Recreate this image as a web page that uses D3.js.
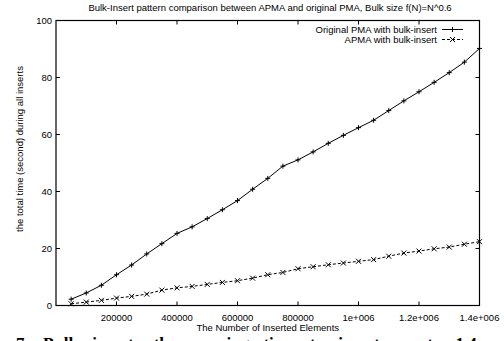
<!DOCTYPE html>
<html><head><meta charset="utf-8">
<script src="https://cdn.jsdelivr.net/npm/d3@7"></script>
<style>body{margin:0;background:#fff}svg{display:block}</style>
</head><body>
<svg id="c" width="504" height="341"></svg>
<script>
const xValues = [50000,100000,150000,200000,250000,300000,350000,400000,450000,500000,550000,600000,650000,700000,750000,800000,850000,900000,950000,1000000,1050000,1100000,1150000,1200000,1250000,1300000,1350000,1400000];
const originalPMA = [2.2,4.4,7.1,10.8,14.2,18.1,21.7,25.3,27.6,30.5,33.6,36.8,40.8,44.6,48.9,51.1,53.9,56.9,59.7,62.4,65.0,68.4,71.8,75.0,78.3,81.7,85.4,90.2];
const apma = [0.6,1.2,1.8,2.6,3.2,4.0,5.4,6.2,6.7,7.4,8.1,8.7,9.6,10.8,11.6,12.9,13.6,14.3,14.9,15.5,16.1,17.3,18.4,19.1,19.9,20.5,21.5,22.4];
const xTicks = [200000,400000,600000,800000,1000000,1200000,1400000];
const xTickLabels = ["200000","400000","600000","800000","1e+006","1.2e+006","1.4e+006"];
const yTicks = [0,20,40,60,80,100];
const seriesNames = ["Original PMA with bulk-insert","APMA with bulk-insert"];
const titleText = "Bulk-Insert pattern comparison between APMA and original PMA, Bulk size f(N)=N^0.6";

const svg = d3.select("#c");
const font = "'Liberation Sans', Arial, sans-serif";
const fs = 9.5;
const L=56, R=479.5, T=20.5, B=305.5;
const x = d3.scaleLinear().domain([0,1400000]).range([L,R]);
const y = d3.scaleLinear().domain([0,100]).range([B,T]);

svg.append("text").attr("x",270).attr("y",11).attr("text-anchor","middle")
  .attr("font-family",font).attr("font-size",fs).text(titleText);

svg.append("rect").attr("x",L).attr("y",T).attr("width",R-L).attr("height",B-T)
  .attr("fill","none").attr("stroke","#000").attr("stroke-width",1.2);

const tl=4;
const gx = svg.append("g");
xTicks.forEach((t,i)=>{
  gx.append("line").attr("x1",x(t)).attr("x2",x(t)).attr("y1",B).attr("y2",B-tl).attr("stroke","#000");
  gx.append("line").attr("x1",x(t)).attr("x2",x(t)).attr("y1",T).attr("y2",T+tl).attr("stroke","#000");
  gx.append("text").attr("x",x(t)).attr("y",B+15.5).attr("text-anchor","middle")
    .attr("font-family",font).attr("font-size",fs).text(xTickLabels[i]);
});
const gy = svg.append("g");
yTicks.forEach(t=>{
  gy.append("line").attr("x1",L).attr("x2",L+tl).attr("y1",y(t)).attr("y2",y(t)).attr("stroke","#000");
  gy.append("line").attr("x1",R).attr("x2",R-tl).attr("y1",y(t)).attr("y2",y(t)).attr("stroke","#000");
  gy.append("text").attr("x",L-4).attr("y",y(t)+3.4).attr("text-anchor","end")
    .attr("font-family",font).attr("font-size",fs).text(t);
});

svg.append("text").attr("x",(L+R)/2).attr("y",331).attr("text-anchor","middle")
  .attr("font-family",font).attr("font-size",fs).text("The Number of Inserted Elements");
svg.append("text").attr("transform","translate(23,149) rotate(-90)").attr("text-anchor","middle")
  .attr("font-family",font).attr("font-size",fs).text("the total time (second) during all inserts");

// caption, cut off at the bottom edge as in the reference
svg.append("text").attr("x",16).attr("y",348.5).attr("font-family","'Liberation Serif', 'Times New Roman', serif")
  .attr("font-weight","bold").attr("font-size",17).attr("word-spacing",10)
  .text("7.  Bulk insert: the running time to insert up to 1.4");

const line = d3.line().x(d=>x(d[0])).y(d=>y(d[1]));
const d1 = xValues.map((v,i)=>[v,originalPMA[i]]);
const d2 = xValues.map((v,i)=>[v,apma[i]]);
svg.append("path").attr("d",line(d1)).attr("fill","none").attr("stroke","#000").attr("stroke-width",1);
svg.append("path").attr("d",line(d2)).attr("fill","none").attr("stroke","#000").attr("stroke-width",1).attr("stroke-dasharray","3,2");

const s=2.5;
function plus(g,cx,cy){
  g.append("path").attr("d",`M${cx-s},${cy}H${cx+s}M${cx},${cy-s}V${cy+s}`).attr("stroke","#000").attr("stroke-width",1);
}
function cross(g,cx,cy){
  g.append("path").attr("d",`M${cx-s},${cy-s}L${cx+s},${cy+s}M${cx-s},${cy+s}L${cx+s},${cy-s}`).attr("stroke","#000").attr("stroke-width",1);
}
const pg = svg.append("g");
d1.forEach(d=>plus(pg,x(d[0]),y(d[1])));
d2.forEach(d=>cross(pg,x(d[0]),y(d[1])));

const lg = svg.append("g");
const ly=[29.5,39.5];
[0,1].forEach(i=>{
  lg.append("text").attr("x",437).attr("y",ly[i]+3.4).attr("text-anchor","end")
    .attr("font-family",font).attr("font-size",fs).text(seriesNames[i]);
  const ln = lg.append("line").attr("x1",442).attr("x2",463).attr("y1",ly[i]).attr("y2",ly[i]).attr("stroke","#000");
  if(i===1) ln.attr("stroke-dasharray","3,2");
  if(i===0) plus(lg,452.5,ly[i]); else cross(lg,452.5,ly[i]);
});
</script>
</body></html>
